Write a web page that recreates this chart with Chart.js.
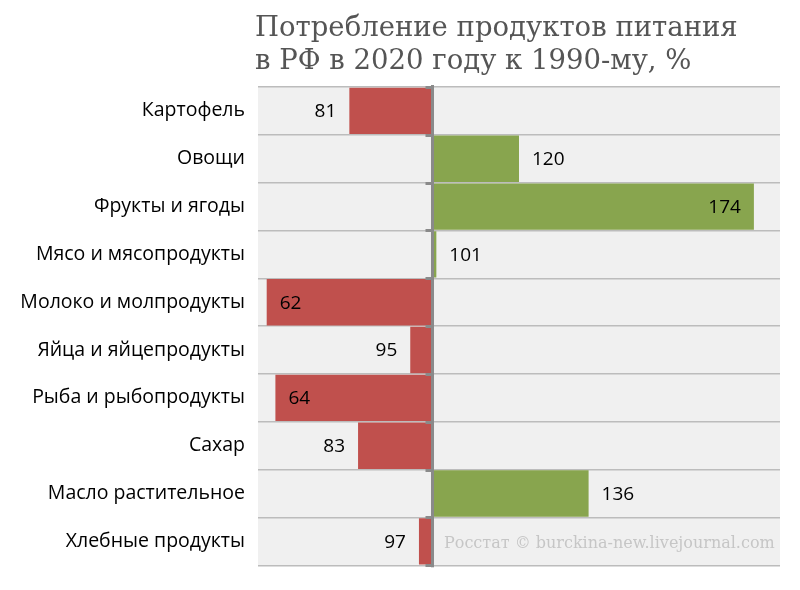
<!DOCTYPE html>
<html>
<head>
<meta charset="utf-8">
<script src="https://cdn.jsdelivr.net/npm/chart.js@4/dist/chart.umd.min.js"></script>
<style>
  html, body { margin: 0; padding: 0; background: #fff; }
  #wrap { position: relative; width: 800px; height: 590px; }
  #title { position: absolute; left: 255px; top: 10px; font-family: "DejaVu Serif", serif; font-size: 27.5px; line-height: 33px; color: #555; white-space: nowrap; }
  #src { position: absolute; left: 444px; top: 533px; font-family: "DejaVu Serif", serif; font-size: 16px; line-height: 19px; color: #c6c6c6; white-space: nowrap; }
  canvas { position: absolute; left: 0; top: 0; }
</style>
</head>
<body>
<div id="wrap">
  <canvas id="c" width="800" height="590"></canvas>
  <div id="title">Потребление продуктов питания<br>в РФ в 2020 году к 1990-му, %</div>
  <div id="src">Росстат © burckina-new.livejournal.com</div>
</div>
<script>
const categories = ["Картофель", "Овощи", "Фрукты и ягоды", "Мясо и мясопродукты", "Молоко и молпродукты", "Яйца и яйцепродукты", "Рыба и рыбопродукты", "Сахар", "Масло растительное", "Хлебные продукты"];
const values = [81, 120, 174, 101, 62, 95, 64, 83, 136, 97];
const baseline = 100;
const axisMin = 60;
const axisMax = 180;

const RED = "#c0504d";
const GREEN = "#88a54e";

const bgPlugin = {
  id: "bg",
  beforeDraw(chart) {
    const { ctx, chartArea: a } = chart;
    ctx.save();
    ctx.fillStyle = "#f0f0f0";
    ctx.fillRect(a.left, a.top, a.right - a.left, a.bottom - a.top);
    ctx.restore();
  }
};

const axisPlugin = {
  id: "axis100",
  afterDatasetsDraw(chart) {
    const { ctx, chartArea: a, scales } = chart;
    const x = Math.round(scales.x.getPixelForValue(baseline)) + 0.5;
    ctx.save();
    ctx.fillStyle = "#8a8a8a";
    ctx.fillRect(x - 1.5, a.top - 2, 3, a.bottom - a.top + 4);
    const n = categories.length;
    const step = (a.bottom - a.top) / n;
    for (let i = 0; i <= n; i++) {
      const yy = a.top + i * step;
      ctx.fillRect(x - 7, Math.round(yy) - 1, 6, 3);
    }
    // value labels
    ctx.font = "19px 'Open Sans', sans-serif";
    ctx.fillStyle = "#000";
    ctx.textBaseline = "middle";
    ctx.textAlign = "left";
    const gap = 13;
    const meta = chart.getDatasetMeta(0);
    values.forEach((v, i) => {
      const bar = meta.data[i];
      const txt = String(v);
      const w = ctx.measureText(txt).width;
      const end = scales.x.getPixelForValue(v);
      const y = bar.y + 1;
      let tx;
      if (v < baseline) {
        tx = end - gap - w;
        if (tx < a.left + 2) tx = end + gap;
      } else {
        tx = end + gap;
        if (tx + w > a.right - 2) tx = end - gap - w;
      }
      ctx.fillText(txt, tx, y);
    });
    ctx.restore();
  }
};

new Chart(document.getElementById("c"), {
  type: "bar",
  data: {
    labels: categories,
    datasets: [{
      data: values.map(v => [baseline, v]),
      backgroundColor: values.map(v => v < baseline ? RED : GREEN),
      borderWidth: 0,
      categoryPercentage: 1,
      barPercentage: 0.97
    }]
  },
  options: {
    indexAxis: "y",
    responsive: false,
    animation: false,
    layout: { padding: { top: 87, right: 20, bottom: 24, left: 0 } },
    plugins: { legend: { display: false }, tooltip: { enabled: false } },
    scales: {
      x: { display: false, min: axisMin, max: axisMax },
      y: {
        afterFit(s) { s.width = 258; },
        border: { display: false },
        grid: { offset: true, color: "#bcbcbc", lineWidth: 1.5, drawTicks: false },
        ticks: { padding: 13, color: "#000", font: { family: "'Open Sans', sans-serif", size: 19.5 } }
      }
    }
  },
  plugins: [bgPlugin, axisPlugin]
});
</script>
</body>
</html>
